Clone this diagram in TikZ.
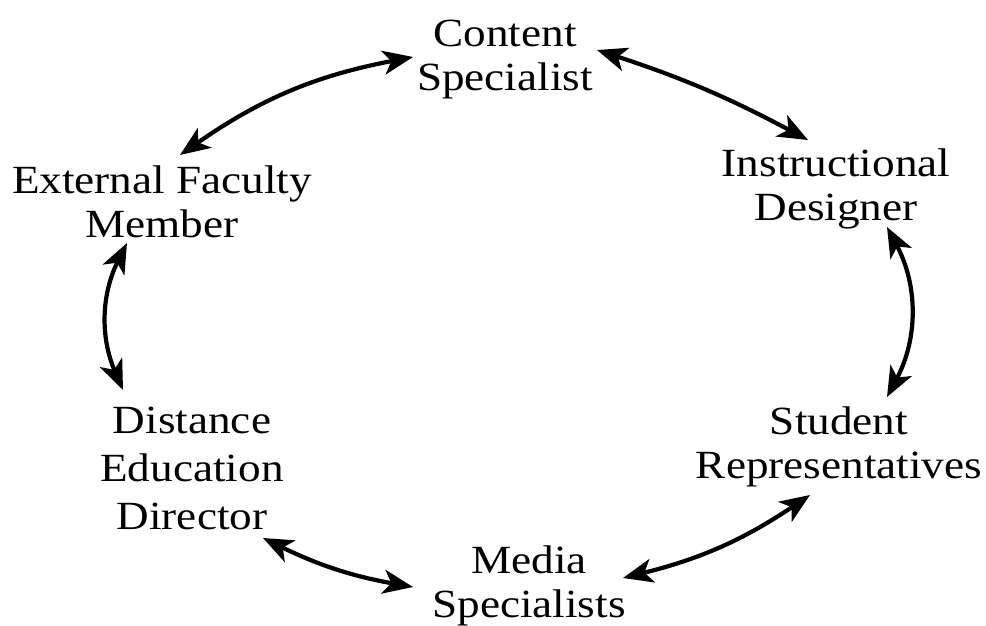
\documentclass[tikz,border=0pt]{standalone}
\usepackage{fontspec}
\setmainfont[FakeStretch=1.13]{Liberation Serif}
\usetikzlibrary{arrows.meta}
\begin{document}
\begin{tikzpicture}[x=1pt,y=-1pt,
  role/.style={align=center, inner sep=0pt, font=\fontsize{40}{44}\selectfont},
  link/.style={line width=4.2pt, {Stealth[length=30pt,width=24pt,inset=8pt]}-{Stealth[length=30pt,width=24pt,inset=8pt]}}]
  \useasboundingbox (0,0) rectangle (986,626);

  % team roles
  \node[role] (content)  at (505,60)  {Content\\Specialist};
  \node[role] (designer) at (836,189) {Instructional\\Designer};
  \node[role] (external) at (162,202) {External Faculty\\Member};
  \node[role, font=\fontsize{40}{48}\selectfont] (director) at (192,468) {Distance\\Education\\Director};
  \node[role] (students) at (839,447) {Student\\Representatives};
  \node[role] (media)    at (529,586) {Media\\Specialists};

  % connector ends
  \coordinate (ext-n) at (180,155);
  \coordinate (con-w) at (413,57);
  \coordinate (con-e) at (597,50);
  \coordinate (des-n) at (808,140);
  \coordinate (des-s) at (887,227);
  \coordinate (stu-n) at (887,397);
  \coordinate (stu-s) at (810,495);
  \coordinate (med-e) at (623,578);
  \coordinate (med-w) at (413,587);
  \coordinate (dir-e) at (263,538);
  \coordinate (dir-n) at (123,390);
  \coordinate (ext-s) at (127,243);

  % two-way links around the circle
  \draw[link] (ext-n) to[bend left=12] (con-w);
  \draw[link] (con-e) to[bend left=5]  (des-n);
  \draw[link] (des-s) to[bend left=28] (stu-n);
  \draw[link] (stu-s) to[bend left=10] (med-e);
  \draw[link] (med-w) to[bend left=8]  (dir-e);
  \draw[link] (dir-n) to[bend left=25] (ext-s);
\end{tikzpicture}
\end{document}
